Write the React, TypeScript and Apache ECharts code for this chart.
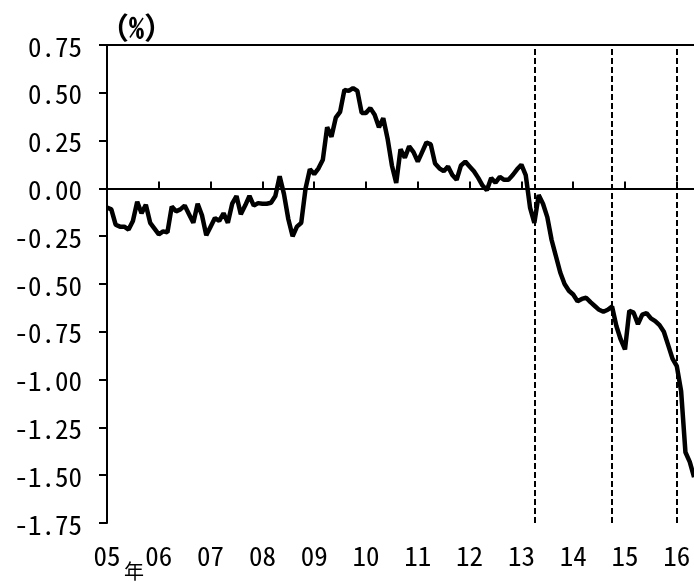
import React, { useEffect, useRef } from "react";
import * as echarts from "echarts";

// Monthly values starting Jan 2005 (%)
const startYear = 2005;
const values: number[] = [
  -0.10, -0.11, -0.19, -0.20, -0.20, -0.215, -0.17, -0.07, -0.13, -0.085, -0.18, -0.21,
  -0.24, -0.225, -0.23, -0.095, -0.12, -0.11, -0.09, -0.135, -0.18, -0.08, -0.14, -0.245,
  -0.20, -0.155, -0.17, -0.13, -0.18, -0.08, -0.04, -0.135, -0.09, -0.04, -0.09, -0.077,
  -0.08, -0.08, -0.075, -0.04, 0.063, -0.03, -0.16, -0.25, -0.20, -0.18, 0.00, 0.10,
  0.075, 0.105, 0.15, 0.32, 0.27, 0.37, 0.40, 0.515, 0.51, 0.525, 0.51, 0.395,
  0.395, 0.42, 0.385, 0.32, 0.367, 0.26, 0.12, 0.028, 0.205, 0.16, 0.22, 0.19,
  0.14, 0.19, 0.24, 0.23, 0.13, 0.105, 0.09, 0.115, 0.07, 0.045, 0.12, 0.14,
  0.115, 0.09, 0.055, 0.015, -0.01, 0.055, 0.03, 0.06, 0.045, 0.045, 0.07, 0.10,
  0.124, 0.07, -0.10, -0.18, -0.035, -0.08, -0.15, -0.27, -0.355, -0.44, -0.50, -0.535,
  -0.555, -0.59, -0.578, -0.572, -0.595, -0.615, -0.635, -0.645, -0.635, -0.618, -0.72, -0.79,
  -0.842, -0.64, -0.65, -0.71, -0.66, -0.652, -0.68, -0.694, -0.715, -0.75, -0.82, -0.89,
  -0.93, -1.06, -1.38, -1.43, -1.51,
];

// Event lines (year fractions)
const eventLines: number[] = [2013.25, 2014.75, 2016.0];
const xTicks: number[] = [2005, 2006, 2007, 2008, 2009, 2010, 2011, 2012, 2013, 2014, 2015, 2016];

const FONT = "'Noto Sans Mono CJK JP', 'Noto Sans CJK JP', monospace";

export default function App() {
  const ref = useRef<HTMLDivElement>(null);
  useEffect(() => {
    if (!ref.current) return;
    const chart = echarts.init(ref.current, undefined, { renderer: "svg" });
    const data = values.map((v, i) => [startYear + i / 12, v]);
    chart.setOption({
      animation: false,
      textStyle: { fontFamily: FONT },
      grid: { left: 107, right: 0, top: 45, bottom: 63 },
      xAxis: [
        {
          type: "value",
          min: 2005,
          max: 2016.332,
          interval: 1,
          splitLine: { show: false },
          axisLine: { show: true, lineStyle: { color: "#000", width: 2 } },
          axisTick: { show: true, inside: true, length: 7, customValues: xTicks, lineStyle: { color: "#000", width: 2 } },
          axisLabel: {
            customValues: xTicks,
            color: "#000",
            fontSize: 27,
            margin: 18,
            fontFamily: FONT,
            formatter: (v: number) => String(Math.round(v) % 100).padStart(2, "0"),
          },
        },
        {
          type: "value",
          position: "top",
          min: 2005,
          max: 2016.332,
          splitLine: { show: false },
          axisLine: { show: true, lineStyle: { color: "#000", width: 2 } },
          axisTick: { show: false },
          axisLabel: { show: false },
        },
      ],
      yAxis: {
        type: "value",
        min: -1.75,
        max: 0.75,
        interval: 0.25,
        splitLine: { show: false },
        axisLine: { show: true, lineStyle: { color: "#000", width: 2 } },
        axisTick: { show: true, inside: false, length: 8, lineStyle: { color: "#000", width: 2 } },
        axisLabel: {
          color: "#000",
          fontSize: 27,
          margin: 25,
          fontFamily: FONT,
          formatter: (v: number) => v.toFixed(2),
        },
      },
      graphic: [
        {
          type: "text",
          left: 99,
          top: 11,
          style: { text: "（%）", font: `bold 30px ${FONT}`, fill: "#000" },
        },
        {
          type: "text",
          left: 124,
          top: 560,
          style: { text: "年", font: `20px ${FONT}`, fill: "#000" },
        },
      ],
      series: [
        {
          type: "line",
          data,
          showSymbol: false,
          symbol: "none",
          clip: true,
          lineStyle: { color: "#000", width: 4.5 },
          markLine: {
            silent: true,
            symbol: "none",
            label: { show: false },
            data: [
              { yAxis: 0, lineStyle: { color: "#000", width: 2, type: "solid" } },
              ...eventLines.map((x) => ({
                xAxis: x,
                lineStyle: { color: "#000", width: 2, type: [6, 3] },
              })),
            ],
          },
        },
      ],
    });
    return () => chart.dispose();
  }, []);
  return <div ref={ref} style={{ position: "fixed", left: 0, top: 0, width: 694, height: 586 }} />;
}
